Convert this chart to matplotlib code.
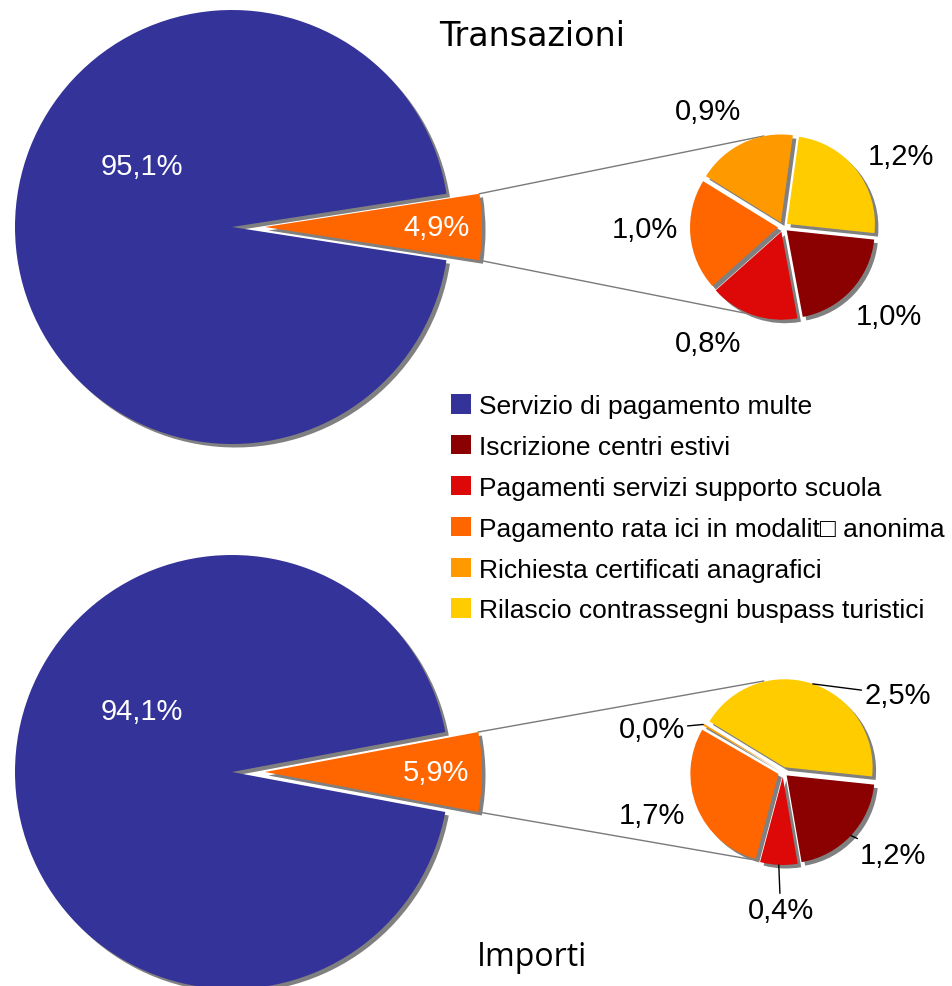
import numpy as np
import matplotlib
matplotlib.use("Agg")
import matplotlib.pyplot as plt
from matplotlib.patches import Patch

plt.rcParams['font.family'] = ['Liberation Sans', 'DejaVu Sans']

W, H = 952, 987

categorie = ["Servizio di pagamento multe",
             "Iscrizione centri estivi",
             "Pagamenti servizi supporto scuola",
             "Pagamento rata ici in modalit\u25a1 anonima",
             "Richiesta certificati anagrafici",
             "Rilascio contrassegni buspass turistici"]
colori = ["#333399", "#8B0000", "#DD0808", "#FF6600", "#FF9900", "#FFCC00"]

# percentuali (multe, altri servizi)
trans_principale = [95.1, 4.9]
importi_principale = [94.1, 5.9]
# dettaglio altri servizi: centri estivi, scuola, ici, certificati, buspass
trans_dettaglio = [1.0, 0.8, 1.0, 0.9, 1.2]
importi_dettaglio = [1.2, 0.4, 1.7, 0.02, 2.5]

SHADOW = "#808080"
R_BIG, R_SMALL = 217, 88
EXP_BIG, EXP_SMALL = 33, 5


def fmt(v):
    return f"{v:.1f}%".replace(".", ",")


def polar(c, r, ang):
    a = np.deg2rad(ang)
    return c[0] + r * np.cos(a), c[1] + r * np.sin(a)


def pie_with_shadow(ax, vals, cols, center, radius, explode, start, ccw):
    sc = (center[0] + 3.5, center[1] - 3.5)
    ax.pie(vals, colors=[SHADOW] * len(vals), center=sc, radius=radius,
           explode=explode, startangle=start, counterclock=ccw,
           wedgeprops=dict(linewidth=0, zorder=1))
    wedges, _ = ax.pie(vals, colors=cols, center=center, radius=radius,
                       explode=explode, startangle=start, counterclock=ccw,
                       wedgeprops=dict(linewidth=0, zorder=2))
    return wedges


def pannello(ax, principale, dettaglio, cy, label_ang, leader, big_lab_ang):
    big_c = (232, cy)
    small_c = (783, cy)
    altro = principale[1]
    half = altro / sum(principale) * 360 / 2
    pie_with_shadow(ax, [altro, principale[0]], [colori[3], colori[0]],
                    big_c, R_BIG, [EXP_BIG, 0], -half, True)
    # etichette torta principale
    x, y = polar(big_c, 0.5 * R_BIG, big_lab_ang)
    ax.text(x, y, fmt(principale[0]), color="white", fontsize=21,
            ha="center", va="center", zorder=5)
    ax.text(big_c[0] + EXP_BIG + 0.79 * R_BIG, cy, fmt(altro), color="white",
            fontsize=21, ha="center", va="center", zorder=5)

    # torta di dettaglio (senso orario da destra)
    tot = sum(dettaglio)
    start = -6
    pie_with_shadow(ax, dettaglio, colori[1:], small_c, R_SMALL,
                    [EXP_SMALL] * len(dettaglio), start, False)

    # linee di collegamento
    ox = big_c[0] + EXP_BIG + R_BIG * np.cos(np.deg2rad(half))
    oy = R_BIG * np.sin(np.deg2rad(half))
    for sgn, ang in ((1, 102), (-1, -110)):
        ex, ey = polar(small_c, R_SMALL + EXP_SMALL, ang)
        ax.plot([ox, ex], [cy + sgn * oy, ey], color="#7a7a7a", lw=1.0,
                zorder=0.5)

    # etichette dettaglio
    a0 = start
    for v, la, ld in zip(dettaglio, label_ang, leader):
        span = v / tot * 360
        mid = a0 - span / 2
        a0 -= span
        tx, ty = polar(small_c, 1.57 * R_SMALL, la)
        if ld:
            px, py = polar(small_c, R_SMALL + EXP_SMALL, mid)
            ax.annotate(fmt(v), xy=(px, py), xytext=(tx, ty), fontsize=21,
                        ha="center", va="center", zorder=5,
                        arrowprops=dict(arrowstyle="-", color="black", lw=1,
                                        shrinkA=0, shrinkB=0))
        else:
            ax.text(tx, ty, fmt(v), fontsize=21, ha="center", va="center",
                    zorder=5)


fig = plt.figure(figsize=(W / 100, H / 100), dpi=100)
ax = fig.add_axes([0, 0, 1, 1])

pannello(ax, trans_principale, trans_dettaglio, H - 228,
         [-40, -123, 181, 123, 31], [False] * 5, 146)
pannello(ax, importi_principale, importi_dettaglio, H - 773,
         [-37, -91, -162, 162, 34], [True, True, False, True, True], 146)

ax.text(532, H - 37, "Transazioni", fontsize=24, ha="center", va="center",
        family=["DejaVu Sans"])
ax.text(532, H - 958, "Importi", fontsize=23, ha="center", va="center",
        family=["Open Sans"])

handles = [Patch(facecolor=c, edgecolor="none") for c in colori]
ax.legend(handles, categorie, loc="upper left",
          bbox_to_anchor=(451 / W, 1 - 395 / H), frameon=False, fontsize=19,
          handlelength=0.76, handleheight=0.76, handletextpad=0.3,
          labelspacing=0.64, borderpad=0, borderaxespad=0)

ax.set_xlim(0, W)
ax.set_ylim(0, H)
ax.set_aspect("equal")
ax.axis("off")
fig.savefig("out.png", dpi=100)
